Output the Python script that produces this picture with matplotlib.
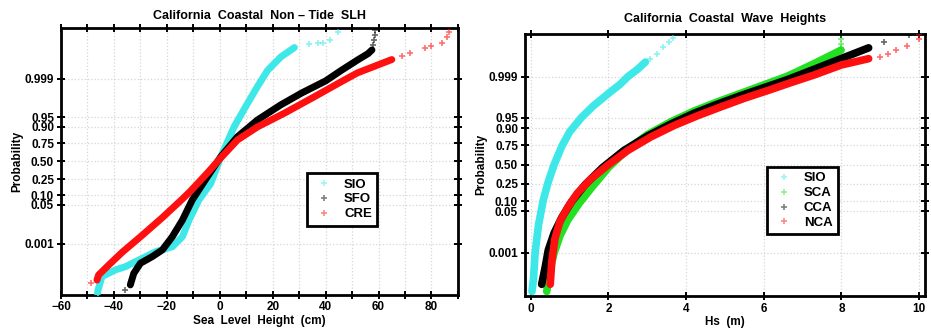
from statistics import NormalDist

import matplotlib
matplotlib.use("Agg")
from matplotlib import pyplot as plt

# probability axis: values below are normal scores (z)
prob_ticks = [0.001, 0.05, 0.10, 0.25, 0.50, 0.75, 0.90, 0.95, 0.999]
prob_labels = ["0.001", "0.05", "0.10", "0.25", "0.50", "0.75", "0.90", "0.95", "0.999"]

# --- left panel: non-tide sea level height (cm) ---
slh_sio_x = [-46.2, -46.0, -44.5, -39.5, -35.7, -30.6, -24.3, -17.9, -14.1, -11.6, -7.9,
             -3.4, 0.4, 5.4, 10.5, 14.3, 18.1, 23.1, 28.2]
slh_sio_z = [-4.95, -4.83, -4.33, -4.08, -3.96, -3.71, -3.40, -3.21, -2.83, -2.21, -1.46,
             -0.84, 0.16, 1.28, 2.16, 2.80, 3.40, 3.90, 4.25]
slh_sio_tail_x = [33.9, 37.1, 39.0, 41.5, 44.6]
slh_sio_tail_z = [4.38, 4.41, 4.43, 4.53, 4.84]

slh_sfo_x = [-33.8, -32.5, -30.0, -25.5, -21.7, -17.9, -14.1, -10.4, -4.7, 0.4, 6.7,
             14.3, 23.0, 31.0, 40.0, 46.0, 52.0, 56.0, 57.5]
slh_sfo_z = [-4.64, -4.21, -3.83, -3.58, -3.33, -2.83, -2.21, -1.46, -0.59, 0.16, 0.91,
             1.54, 2.10, 2.55, 3.00, 3.40, 3.78, 4.02, 4.16]
slh_sfo_tail_x = [-35.7, 58.0, 58.3, 58.6, 58.8]
slh_sfo_tail_z = [-4.83, 4.35, 4.53, 4.72, 4.91]

slh_cre_x = [-46.4, -45.8, -42.0, -36.9, -29.3, -21.7, -14.1, -11.0, -4.7, 0.4, 6.7,
             14.3, 24.4, 35.8, 45.9, 52.0, 59.8, 65.0]
slh_cre_z = [-4.46, -4.27, -3.90, -3.42, -2.78, -2.12, -1.42, -1.12, -0.45, 0.12, 0.79,
             1.28, 1.79, 2.41, 2.97, 3.30, 3.60, 3.80]
slh_cre_tail_x = [-48.6, 68.7, 72.0, 77.5, 80.0, 83.8, 85.8, 86.5]
slh_cre_tail_z = [-4.56, 3.95, 4.05, 4.22, 4.30, 4.41, 4.66, 4.84]

# --- right panel: significant wave height Hs (m) ---
hs_sio_x = [0.03, 0.07, 0.11, 0.20, 0.32, 0.45, 0.60, 0.80, 1.00, 1.30, 1.60, 2.00,
            2.30, 2.50, 2.75, 2.95]
hs_sio_z = [-4.45, -4.00, -3.10, -2.10, -1.25, -0.60, 0.00, 0.65, 1.15, 1.65, 2.05, 2.50,
            2.82, 3.09, 3.35, 3.60]
hs_sio_tail_x = [3.07, 3.25, 3.41, 3.55, 3.67]
hs_sio_tail_z = [3.72, 3.90, 4.13, 4.30, 4.43]

hs_sca_x = [0.41, 0.48, 0.60, 0.75, 0.95, 1.25, 1.60, 2.00, 2.50, 3.00, 3.60, 4.20,
            4.80, 5.40, 6.00, 6.60, 7.30, 7.99]
hs_sca_z = [-4.45, -3.80, -3.10, -2.50, -1.95, -1.35, -0.75, -0.10, 0.55, 1.05, 1.50, 1.88,
            2.20, 2.50, 2.80, 3.10, 3.55, 4.02]
hs_sca_tail_x = [8.0, 8.0, 8.0]
hs_sca_tail_z = [4.10, 4.25, 4.40]

hs_cca_x = [0.28, 0.37, 0.45, 0.60, 0.80, 1.05, 1.40, 1.85, 2.40, 3.00, 3.60, 4.20,
            4.80, 5.40, 6.00, 6.60, 7.30, 8.10, 8.70]
hs_cca_z = [-4.20, -3.60, -3.00, -2.40, -1.85, -1.30, -0.70, -0.10, 0.50, 1.00, 1.42, 1.80,
            2.12, 2.42, 2.70, 2.98, 3.35, 3.78, 4.10]
hs_cca_tail_x = [9.1, 9.75]
hs_cca_tail_z = [4.31, 4.54]

hs_nca_x = [0.50, 0.54, 0.62, 0.75, 0.95, 1.20, 1.55, 2.00, 2.50, 3.10, 3.70, 4.30,
            4.90, 5.50, 6.10, 6.70, 7.30, 8.00, 8.70]
hs_nca_z = [-4.20, -3.40, -2.60, -2.00, -1.50, -1.00, -0.50, 0.00, 0.50, 0.98, 1.38, 1.72,
            2.03, 2.33, 2.60, 2.88, 3.15, 3.50, 3.72]
hs_nca_tail_x = [8.98, 9.20, 9.41, 9.70, 10.0, 10.0]
hs_nca_tail_z = [3.78, 3.87, 4.01, 4.15, 4.42, 4.60]

CYAN = "#3fe8e8"
GREEN = "#22e022"
BLACK = "#000000"
RED = "#ff1010"

plt.rcParams["font.family"] = ["Liberation Sans", "DejaVu Sans"]
plt.rcParams["font.weight"] = "bold"

fig = plt.figure(figsize=(9.31, 3.36), dpi=100)
ax1 = fig.add_axes([0.0655, 0.1235, 0.4264, 0.7946])
ax2 = fig.add_axes([0.5639, 0.1200, 0.4296, 0.7800])


def draw_series(ax, x, z, tx, tz, color, label, lw=5):
    ax.plot(x, z, "-", color=color, lw=lw, solid_capstyle="round", zorder=3)
    ax.plot(x, z, "+", color=color, ms=5, mew=1.2, zorder=3)
    ax.plot(tx, tz, "+", color=color, ms=5, mew=1.2, alpha=0.6, zorder=3)
    # legend handle: faint plus marker only
    ax.plot([], [], "+", color=color, ms=5, mew=1.2, alpha=0.5, label=label)


def style_axes(ax, xlim, ylim, xticks, xminor, xlabel, title, title_pad):
    ax.set_xlim(*xlim)
    ax.set_ylim(*ylim)
    zt = [NormalDist().inv_cdf(p) for p in prob_ticks]
    ax.set_yticks(zt)
    ax.set_yticklabels(prob_labels, fontsize=8.5, fontweight="bold")
    ax.set_xticks(xticks)
    ax.set_xticklabels([f"{t:g}".replace("-", "\u2212") for t in xticks],
                       fontsize=8.5, fontweight="bold")
    if xminor is not None:
        ax.set_xticks(xminor, minor=True)
    ax.tick_params(which="both", direction="inout", length=6, width=1.4,
                   top=True, right=True, pad=2)
    ax.grid(True, which="both", color="#d6d6d6", linestyle=":", lw=0.9)
    ax.set_axisbelow(True)
    for s in ax.spines.values():
        s.set_linewidth(2)
    ax.set_xlabel(xlabel, fontsize=8.5, fontweight="bold", labelpad=1)
    ax.set_ylabel("Probability", fontsize=8.5, fontweight="bold", labelpad=1)
    ax.set_title(title, fontsize=9, fontweight="bold", pad=title_pad)


# left panel
draw_series(ax1, slh_sio_x, slh_sio_z, slh_sio_tail_x, slh_sio_tail_z, CYAN, "SIO")
draw_series(ax1, slh_sfo_x, slh_sfo_z, slh_sfo_tail_x, slh_sfo_tail_z, BLACK, "SFO")
draw_series(ax1, slh_cre_x, slh_cre_z, slh_cre_tail_x, slh_cre_tail_z, RED, "CRE")
style_axes(ax1, (-60, 90), (-5, 5), list(range(-60, 81, 20)), list(range(-50, 91, 20)),
           "Sea  Level  Height  (cm)", "California  Coastal  Non \u2013 Tide  SLH", 6)

# right panel
draw_series(ax2, hs_sio_x, hs_sio_z, hs_sio_tail_x, hs_sio_tail_z, CYAN, "SIO", 5.5)
draw_series(ax2, hs_sca_x, hs_sca_z, hs_sca_tail_x, hs_sca_tail_z, GREEN, "SCA", 5.5)
draw_series(ax2, hs_cca_x, hs_cca_z, hs_cca_tail_x, hs_cca_tail_z, BLACK, "CCA", 5.5)
draw_series(ax2, hs_nca_x, hs_nca_z, hs_nca_tail_x, hs_nca_tail_z, RED, "NCA", 5.5)
style_axes(ax2, (-0.15, 10.15), (-4.6, 4.6), list(range(0, 11, 2)), None,
           "Hs  (m)", "California  Coastal  Wave  Heights", 8)

for ax, anchor in ((ax1, (0.62, 0.258)), (ax2, (0.605, 0.234))):
    leg = ax.legend(loc="lower left", bbox_to_anchor=anchor, borderaxespad=0,
                    fancybox=False, edgecolor="black", framealpha=1, fontsize=9.5,
                    handlelength=1.8, handletextpad=0.6, borderpad=0.4,
                    labelspacing=0.2)
    leg.get_frame().set_linewidth(2)
    for t in leg.get_texts():
        t.set_fontweight("bold")

fig.savefig("out.png", dpi=100)
